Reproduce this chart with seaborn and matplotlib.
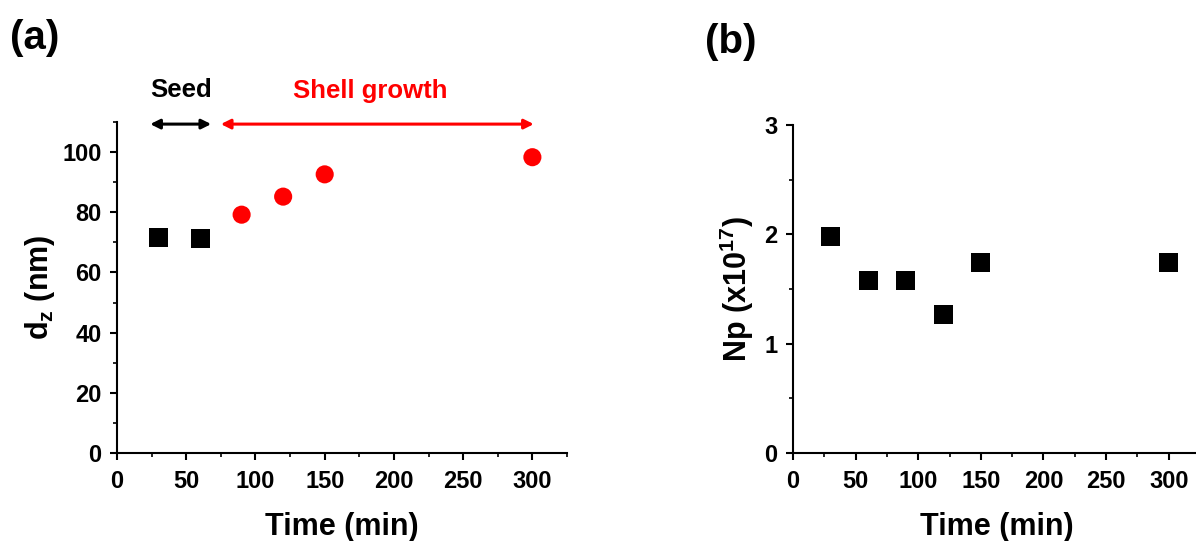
import matplotlib
matplotlib.use("Agg")
import matplotlib.pyplot as plt
from matplotlib.ticker import MultipleLocator
import seaborn as sns
import pandas as pd

# Panel (a): hydrodynamic diameter over time
seed_time = [30, 60]
seed_dz = [71.5, 71.3]
shell_time = [90, 120, 150, 300]
shell_dz = [79.2, 85.2, 92.6, 98.3]

# Panel (b): particle number over time
np_time = [30, 60, 90, 120, 150, 300]
np_count = [1.98, 1.58, 1.58, 1.27, 1.74, 1.74]

x_ticks = [0, 50, 100, 150, 200, 250, 300]

sns.set_style("ticks")
plt.rcParams["font.family"] = ["Liberation Sans", "DejaVu Sans"]
plt.rcParams["font.weight"] = "bold"
plt.rcParams["text.color"] = "black"
plt.rcParams["axes.labelcolor"] = "black"
plt.rcParams["xtick.color"] = "black"
plt.rcParams["ytick.color"] = "black"
plt.rcParams["mathtext.fontset"] = "custom"
plt.rcParams["mathtext.rm"] = "Liberation Sans:bold"
plt.rcParams["mathtext.it"] = "Liberation Sans:bold"
plt.rcParams["mathtext.bf"] = "Liberation Sans:bold"

W, H = 1196, 541
fig = plt.figure(figsize=(W / 100, H / 100), dpi=100)


def px_axes(left, top, right, bottom):
    return fig.add_axes([left / W, 1 - bottom / H, (right - left) / W, (bottom - top) / H])


def style_axes(ax, ymajor, yminor):
    for s in ("top", "right"):
        ax.spines[s].set_visible(False)
    for s in ("left", "bottom"):
        ax.spines[s].set_linewidth(1.5)
        ax.spines[s].set_color("black")
    ax.set_xticks(x_ticks)
    ax.xaxis.set_minor_locator(MultipleLocator(25))
    ax.yaxis.set_major_locator(MultipleLocator(ymajor))
    ax.yaxis.set_minor_locator(MultipleLocator(yminor))
    ax.tick_params(which="major", direction="out", length=5, width=1.5,
                   labelsize=17, colors="black", labelcolor="black")
    ax.tick_params(axis="x", which="major", pad=7)
    ax.tick_params(axis="y", which="major", pad=6)
    ax.tick_params(which="minor", direction="out", length=3, width=1.2, colors="black")
    for lab in ax.get_xticklabels() + ax.get_yticklabels():
        lab.set_fontweight("bold")


# ---- (a) ----
ax1 = px_axes(117, 122, 567, 453)
df_seed = pd.DataFrame({"t": seed_time, "d": seed_dz})
df_shell = pd.DataFrame({"t": shell_time, "d": shell_dz})
sns.scatterplot(data=df_seed, x="t", y="d", marker="s", s=190, color="black",
                edgecolor="none", ax=ax1, clip_on=False, zorder=3)
sns.scatterplot(data=df_shell, x="t", y="d", marker="o", s=170, color="#ff0000",
                edgecolor="none", ax=ax1, clip_on=False, zorder=3)
ax1.set_xlim(0, 325)
ax1.set_ylim(0, 110)
style_axes(ax1, 20, 10)
ax1.set_xlabel("Time (min)", fontsize=22, fontweight="bold", labelpad=14, color="black")
ax1.set_ylabel(r"d$_\mathregular{z}$ (nm)", fontsize=22, fontweight="bold", labelpad=4,
               color="black")

ax1.annotate("", xy=(24, 109.3), xytext=(68, 109.3), xycoords="data",
             arrowprops=dict(arrowstyle="<|-|>", color="black", lw=2.2,
                             mutation_scale=14, shrinkA=0, shrinkB=0),
             annotation_clip=False)
ax1.annotate("", xy=(75, 109.3), xytext=(301, 109.3), xycoords="data",
             arrowprops=dict(arrowstyle="<|-|>", color="#ff0000", lw=2.2,
                             mutation_scale=14, shrinkA=0, shrinkB=0),
             annotation_clip=False)
ax1.text(46, 120.8, "Seed", ha="center", va="center", fontsize=18.5,
         fontweight="bold", color="black", clip_on=False)
ax1.text(183, 120.3, "Shell growth", ha="center", va="center", fontsize=18.5,
         fontweight="bold", color="#ff0000", clip_on=False)
fig.text(10 / W, 1 - 38 / H, "(a)", fontsize=29, fontweight="bold", va="center", ha="left")

# ---- (b) ----
ax2 = px_axes(793, 125, 1200, 453)
df_np = pd.DataFrame({"t": np_time, "n": np_count})
sns.scatterplot(data=df_np, x="t", y="n", marker="s", s=190, color="black",
                edgecolor="none", ax=ax2, clip_on=False, zorder=3)
ax2.set_xlim(0, 325)
ax2.set_ylim(0, 3)
style_axes(ax2, 1, 0.5)
ax2.set_xlabel("Time (min)", fontsize=22, fontweight="bold", labelpad=14, color="black")
ax2.set_ylabel(r"Np (x10$^{17}$)", fontsize=22, fontweight="bold", labelpad=6,
               color="black")
fig.text(705 / W, 1 - 42 / H, "(b)", fontsize=29, fontweight="bold", va="center", ha="left")

fig.savefig("out.png", dpi=100, facecolor="white")
